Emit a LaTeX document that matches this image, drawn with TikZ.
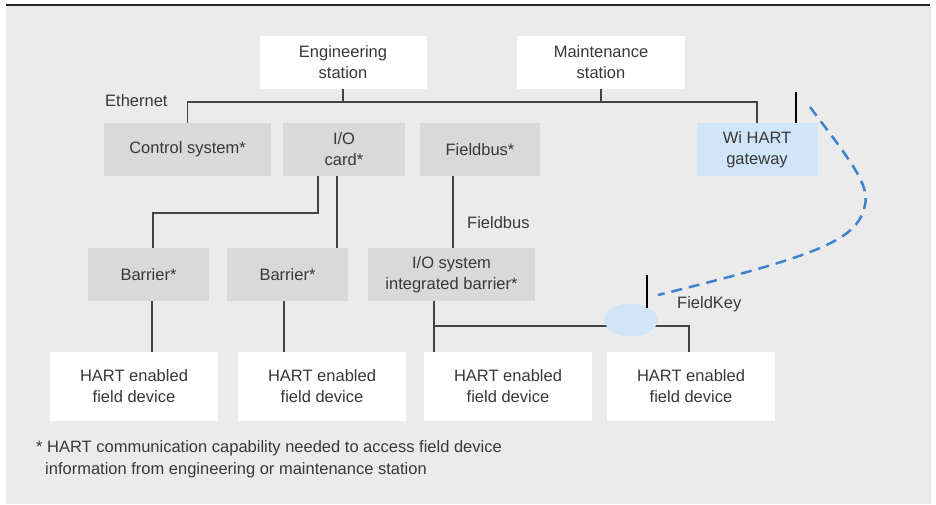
\documentclass[tikz,border=0pt]{standalone}
\usepackage{fontspec}
\setmainfont{Liberation Sans}
\usetikzlibrary{shapes.geometric}
\definecolor{bgc}{HTML}{EBEBEB}
\definecolor{boxg}{HTML}{D9D9D9}
\definecolor{boxb}{HTML}{D0E5F8}
\definecolor{txt}{HTML}{383838}
\definecolor{lnc}{HTML}{444444}
\definecolor{wl}{HTML}{3D82CC}
\tikzset{
  base/.style={inner sep=0pt, align=center, text=txt, font=\fontsize{16.5}{21}\selectfont, minimum height=53pt},
  whitebox/.style={base, fill=white},
  graybox/.style={base, fill=boxg},
  bluebox/.style={base, fill=boxb},
  devbox/.style={base, fill=white, minimum width=168pt, minimum height=69pt},
  lbl/.style={inner sep=0pt, text=txt, font=\fontsize{16.5}{21}\selectfont, anchor=west},
  conn/.style={draw=lnc, line width=1.2pt},
  antenna/.style={draw=black, line width=2.6pt},
  wireless/.style={draw=wl, line width=2.5pt, dash pattern=on 11pt off 7pt},
}
\begin{document}
\begin{tikzpicture}[x=1pt,y=-1pt]
\useasboundingbox (0,0) rectangle (936,504);
\fill[bgc] (6,6) rectangle (931,504);
\draw[line width=1.5pt, draw=black!85] (6,5) -- (930,5);

% top stations
\node[whitebox, minimum width=167pt] (eng) at (343,62.5) {Engineering\\station};
\node[whitebox, minimum width=168pt] (maint) at (601,62.5) {Maintenance\\station};

% level 2
\node[graybox, minimum width=167pt] (ctrl) at (187.5,149.5) {Control system*};
\node[graybox, minimum width=122pt] (iocard) at (344,149.5) {I/O\\card*};
\node[graybox, minimum width=120pt] (fbus) at (480,149.5) {Fieldbus*};
\node[bluebox, minimum width=121pt] (gw) at (757,149.5) {Wi HART\\gateway};

% level 3
\node[graybox, minimum width=121pt] (bar1) at (148.5,274.5) {Barrier*};
\node[graybox, minimum width=121pt] (bar2) at (287.5,274.5) {Barrier*};
\node[graybox, minimum width=167pt] (iosys) at (451.5,274.5) {I/O system\\integrated barrier*};

% field devices
\node[devbox] (h1) at (134,386.5) {HART enabled\\field device};
\node[devbox] (h2) at (322,386.5) {HART enabled\\field device};
\node[devbox] (h3) at (508,386.5) {HART enabled\\field device};
\node[devbox] (h4) at (691,386.5) {HART enabled\\field device};

% labels
\node[lbl] (ethl) at (105,101) {Ethernet};
\node[lbl] (fbl) at (467,223) {Fieldbus};
\node[lbl] (fkl) at (677,304) {FieldKey};
\node[lbl, anchor=north west, align=left, font=\fontsize{16.5}{22}\selectfont] (foot) at (36,440)
  {* HART communication capability needed to access field device\\
   \hspace*{9pt}information from engineering or maintenance station};

% ethernet bus
\coordinate (eth) at (0,102);
\draw[conn] (ctrl.north) |- (gw.north |- eth) -- (gw.north);
\draw[conn] (eng.south) -- (eng.south |- eth);
\draw[conn] (maint.south) -- (maint.south |- eth);

% I/O card to barriers
\coordinate (ioA) at (318,213);
\draw[conn] (iocard.south -| ioA) -- (ioA) -| (bar1.north -| 153,0);
\draw[conn] (iocard.south -| 337,0) -- (bar2.north -| 337,0);

% fieldbus
\draw[conn] (fbus.south -| 453,0) -- (iosys.north -| 453,0);

% barriers to devices
\draw[conn] (bar1.south -| 152,0) -- (h1.north -| 152,0);
\draw[conn] (bar2.south -| 284,0) -- (h2.north -| 284,0);
\draw[conn] (iosys.south -| 434,0) -- (h3.north -| 434,0);
\coordinate (fkbus) at (434,326);
\draw[conn] (fkbus) -| (h4.north -| 689,0);

% FieldKey
\node[ellipse, fill=boxb, minimum width=53pt, minimum height=33pt, inner sep=0pt] (fk) at (631,320) {};
\coordinate (fkantT) at (647,275);
\coordinate (fkantB) at (647,308);
\draw[antenna] (fkantT) -- (fkantB);

% gateway antenna
\coordinate (gwantT) at (796,92);
\draw[antenna] (gwantT) -- (gw.north -| gwantT);

% wireless link
\coordinate (wlA) at (810,107);
\coordinate (wlM) at (865,205);
\coordinate (wlB) at (658,295);
\draw[wireless] (wlA) .. controls (850,160) and (870,185) .. (wlM)
  .. controls (858,240) and (820,255) .. (wlB);
\end{tikzpicture}
\end{document}
